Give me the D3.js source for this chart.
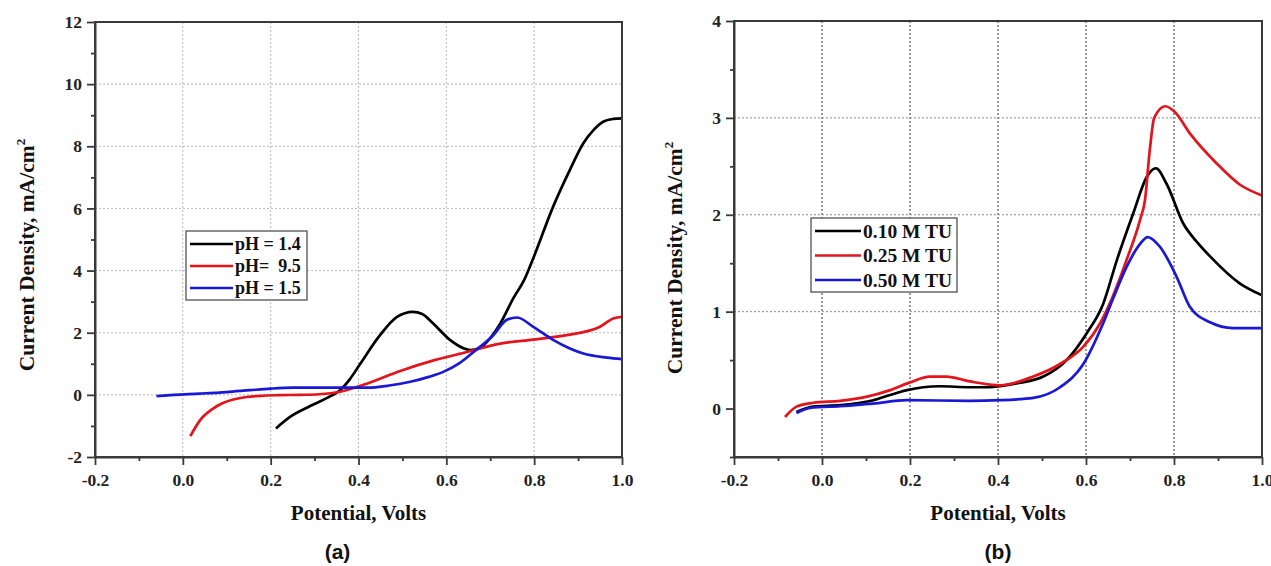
<!DOCTYPE html>
<html>
<head>
<meta charset="utf-8">
<script src="https://cdn.jsdelivr.net/npm/d3@7"></script>
<style>
  body { margin: 0; background: #fff; }
  svg { display: block; }
</style>
</head>
<body>
<div id="chart"></div>
<script>
// panel (a) - effect of pH
const phLabels = ["pH = 1.4", "pH=  9.5", "pH = 1.5"]
const ph14 = [[0.212,-1.08],[0.244,-0.71],[0.29,-0.36],[0.335,-0.05],[0.358,0.15],[0.38,0.5],[0.404,1.0],[0.449,1.92],[0.487,2.5],[0.524,2.67],[0.545,2.6],[0.57,2.3],[0.609,1.76],[0.639,1.5],[0.654,1.44],[0.675,1.5],[0.692,1.7],[0.723,2.3],[0.753,3.12],[0.777,3.69],[0.798,4.4],[0.843,6.05],[0.88,7.2],[0.912,8.1],[0.935,8.52],[0.957,8.79],[0.98,8.88],[1.0,8.9]]
const ph95 = [[0.017,-1.33],[0.039,-0.82],[0.069,-0.44],[0.09,-0.27],[0.115,-0.15],[0.145,-0.07],[0.176,-0.03],[0.22,-0.01],[0.267,0.0],[0.31,0.02],[0.358,0.1],[0.419,0.36],[0.495,0.77],[0.571,1.11],[0.647,1.38],[0.723,1.65],[0.798,1.78],[0.874,1.92],[0.95,2.19],[0.98,2.46],[1.0,2.51]]
const ph15 = [[-0.06,-0.04],[-0.02,0.0],[0.039,0.04],[0.1,0.09],[0.153,0.15],[0.2,0.2],[0.251,0.23],[0.33,0.23],[0.419,0.23],[0.47,0.3],[0.518,0.42],[0.56,0.58],[0.593,0.74],[0.63,1.02],[0.662,1.38],[0.707,1.92],[0.738,2.42],[0.761,2.49],[0.798,2.19],[0.844,1.76],[0.88,1.5],[0.912,1.33],[0.966,1.2],[1.0,1.15]]

// panel (b) - effect of thiourea concentration
const tuLabels = ["0.10 M TU", "0.25 M TU", "0.50 M TU"]
const tu010 = [[-0.058,-0.035],[-0.02,0.02],[0.041,0.035],[0.117,0.086],[0.155,0.14],[0.193,0.19],[0.23,0.22],[0.268,0.23],[0.336,0.22],[0.367,0.22],[0.442,0.26],[0.503,0.33],[0.556,0.5],[0.602,0.78],[0.639,1.08],[0.67,1.53],[0.707,2.01],[0.738,2.39],[0.759,2.48],[0.783,2.32],[0.821,1.91],[0.852,1.72],[0.882,1.57],[0.95,1.29],[1.0,1.17]]
const tu025 = [[-0.084,-0.087],[-0.058,0.02],[-0.02,0.06],[0.041,0.08],[0.1,0.12],[0.155,0.19],[0.2,0.27],[0.245,0.33],[0.283,0.33],[0.336,0.28],[0.405,0.24],[0.48,0.33],[0.541,0.46],[0.594,0.64],[0.632,0.88],[0.662,1.17],[0.692,1.53],[0.723,1.95],[0.734,2.15],[0.745,2.67],[0.755,3.0],[0.78,3.12],[0.802,3.06],[0.836,2.84],[0.897,2.53],[0.95,2.31],[1.0,2.2]]
const tu050 = [[-0.058,-0.045],[-0.027,0.006],[0.041,0.024],[0.116,0.05],[0.193,0.086],[0.336,0.08],[0.405,0.086],[0.48,0.11],[0.541,0.22],[0.594,0.46],[0.639,0.88],[0.662,1.14],[0.692,1.46],[0.723,1.7],[0.74,1.77],[0.768,1.67],[0.806,1.36],[0.836,1.05],[0.882,0.89],[0.934,0.83],[1.0,0.83]]

const seriesColors = ["#000000", "#e3141c", "#1818d6"]

const xTicks = [-0.2, 0.0, 0.2, 0.4, 0.6, 0.8, 1.0]
const xMinor = [-0.1, 0.1, 0.3, 0.5, 0.7, 0.9]
const yTicksA = [-2, 0, 2, 4, 6, 8, 10, 12]
const yMinorA = [-1, 1, 3, 5, 7, 9, 11]
const yTicksB = [0, 1, 2, 3, 4]
const yMinorB = [-0.5, 0.5, 1.5, 2.5, 3.5]

const width = 1271
const height = 566

const svg = d3.select('#chart')
    .append('svg')
    .attr('width', width)
    .attr('height', height)

const serif = '"Liberation Serif", "Times New Roman", serif'
// origin style labels use a plain hyphen for negatives
const fmtX = d => d3.format('.1f')(d).replace('\u2212', '-')
const fmtY = d => String(d).replace('\u2212', '-')

function drawPanel(opt) {
    const x = d3.scaleLinear().domain([-0.2, 1.0]).range([opt.left, opt.right])
    const y = d3.scaleLinear().domain(opt.yDomain).range([opt.bottom, opt.top])

    const g = svg.append('g')

    // grid
    g.selectAll('line.vgrid')
        .data(xTicks.slice(1, -1))
        .join('line')
        .attr('x1', d => x(d)).attr('x2', d => x(d))
        .attr('y1', opt.top).attr('y2', opt.bottom)
        .attr('stroke', opt.vGrid)
        .attr('stroke-width', 1)
        .attr('stroke-dasharray', '2,2')

    g.selectAll('line.hgrid')
        .data(opt.yTicks.slice(1, -1))
        .join('line')
        .attr('x1', opt.left).attr('x2', opt.right)
        .attr('y1', d => y(d)).attr('y2', d => y(d))
        .attr('stroke', opt.hGrid)
        .attr('stroke-width', 1)
        .attr('stroke-dasharray', '2,2')

    // curves
    const line = d3.line()
        .x(d => x(d[0]))
        .y(d => y(d[1]))
        .curve(d3.curveMonotoneX)

    opt.series.forEach((s, i) => {
        g.append('path')
            .datum(s)
            .attr('fill', 'none')
            .attr('stroke', seriesColors[i])
            .attr('stroke-width', 2.7)
            .attr('stroke-linejoin', 'round')
            .attr('d', line)
    })

    // frame
    g.append('rect')
        .attr('x', opt.left).attr('y', opt.top)
        .attr('width', opt.right - opt.left)
        .attr('height', opt.bottom - opt.top)
        .attr('fill', 'none')
        .attr('stroke', '#3a3a3a')
        .attr('stroke-width', 2)

    // axes
    const axes = g.append('g')
    axes.append('g')
        .attr('transform', `translate(0,${opt.bottom})`)
        .call(d3.axisBottom(x).tickValues(xTicks).tickFormat(fmtX).tickSize(8).tickSizeOuter(0).tickPadding(9))
    axes.append('g')
        .attr('transform', `translate(0,${opt.bottom})`)
        .call(d3.axisBottom(x).tickValues(xMinor).tickFormat('').tickSize(4).tickSizeOuter(0))
        .call(a => a.select('.domain').remove())

    axes.append('g')
        .attr('transform', `translate(${opt.left},0)`)
        .call(d3.axisLeft(y).tickValues(opt.yTicks).tickFormat(fmtY).tickSize(8).tickSizeOuter(0).tickPadding(5))
    axes.append('g')
        .attr('transform', `translate(${opt.left},0)`)
        .call(d3.axisLeft(y).tickValues(opt.yMinor).tickFormat('').tickSize(4).tickSizeOuter(0))
        .call(a => a.select('.domain').remove())

    axes.selectAll('g')
        .attr('font-family', serif)
        .attr('font-size', 17)
        .attr('font-weight', 'bold')
    axes.selectAll('.tick line').attr('stroke', '#3a3a3a').attr('stroke-width', 1.8)
    axes.selectAll('.domain').attr('stroke', '#3a3a3a').attr('stroke-width', 2)
    axes.selectAll('.tick text')
        .attr('fill', '#222')
        .attr('font-family', serif)
        .attr('font-weight', 'bold')
        .attr('font-size', 17.5)

    // axis titles
    g.append('text')
        .attr('x', (opt.left + opt.right) / 2)
        .attr('y', 520)
        .attr('text-anchor', 'middle')
        .attr('font-family', serif)
        .attr('font-weight', 'bold')
        .attr('font-size', 21)
        .attr('fill', '#111')
        .text('Potential, Volts')

    const yt = g.append('text')
        .attr('transform', `translate(${opt.yTitleX},${opt.yTitleY}) rotate(-90)`)
        .attr('text-anchor', 'middle')
        .attr('font-family', serif)
        .attr('font-weight', 'bold')
        .attr('font-size', 21.5)
        .attr('fill', '#111')
    yt.append('tspan').text('Current Density, mA/cm')
    yt.append('tspan').attr('dy', -9).attr('font-size', 13).text('2')

    // legend
    const lg = g.append('g').attr('transform', `translate(${opt.legend.x},${opt.legend.y})`)
    lg.append('rect')
        .attr('width', opt.legend.w).attr('height', opt.legend.h)
        .attr('fill', '#fff')
        .attr('stroke', '#444')
        .attr('stroke-width', 1.2)
    opt.labels.forEach((lab, i) => {
        const cy = opt.legend.first + i * opt.legend.step
        lg.append('line')
            .attr('x1', 4).attr('x2', opt.legend.lineLen + 4)
            .attr('y1', cy).attr('y2', cy)
            .attr('stroke', seriesColors[i])
            .attr('stroke-width', 2.7)
        lg.append('text')
            .attr('x', opt.legend.lineLen + 6)
            .attr('y', cy)
            .attr('dy', '0.35em')
            .attr('font-family', serif)
            .attr('font-weight', 'bold')
            .attr('font-size', opt.legend.font)
            .attr('fill', '#111')
            .style('white-space', 'pre')
            .text(lab)
    })

    // panel label
    g.append('text')
        .attr('x', (opt.left + opt.right) / 2 + opt.tagShift)
        .attr('y', 559)
        .attr('text-anchor', 'middle')
        .attr('font-family', '"Liberation Sans", Arial, sans-serif')
        .attr('font-weight', 'bold')
        .attr('font-size', 21)
        .attr('fill', '#111')
        .text(opt.tag)
}

drawPanel({
    left: 95, right: 622, top: 22, bottom: 457,
    yDomain: [-2, 12], yTicks: yTicksA, yMinor: yMinorA,
    vGrid: '#b8b8b8', hGrid: '#b8b8b8',
    series: [ph14, ph95, ph15], labels: phLabels,
    yTitleX: 34, yTitleY: 255,
    legend: { x: 186, y: 231, w: 121, h: 69, first: 13, step: 22, lineLen: 43, font: 18 },
    tag: '(a)', tagShift: -21
})

drawPanel({
    left: 734, right: 1262, top: 21, bottom: 457,
    yDomain: [-0.5, 4], yTicks: yTicksB, yMinor: yMinorB,
    vGrid: '#333333', hGrid: '#8a8a8a',
    series: [tu010, tu025, tu050], labels: tuLabels,
    yTitleX: 682, yTitleY: 258,
    legend: { x: 811, y: 218, w: 146, h: 74, first: 13, step: 24.5, lineLen: 46, font: 19.5 },
    tag: '(b)', tagShift: 0
})
</script>
</body>
</html>
